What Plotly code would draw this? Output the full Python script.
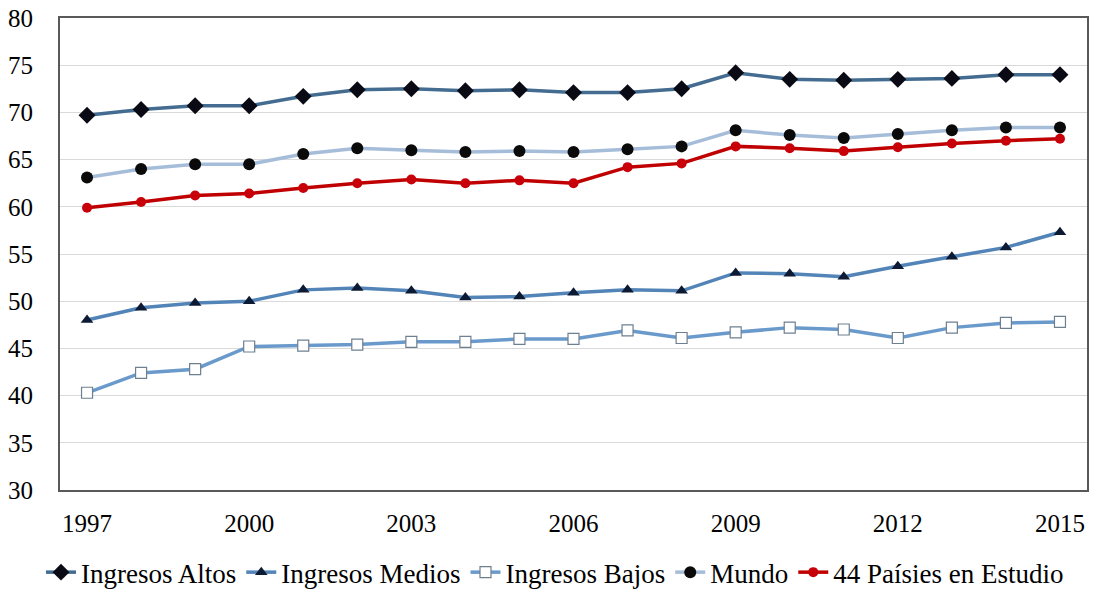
import plotly.graph_objects as go

years = list(range(1997, 2016))

altos = [69.7, 70.3, 70.7, 70.7, 71.7, 72.4, 72.5, 72.3, 72.4, 72.1, 72.1, 72.5,
         74.2, 73.5, 73.4, 73.5, 73.6, 74.0, 74.0]
medios = [48.0, 49.3, 49.8, 50.0, 51.2, 51.4, 51.1, 50.4, 50.5, 50.9, 51.2, 51.1,
          53.0, 52.9, 52.6, 53.7, 54.7, 55.7, 57.3]
bajos = [40.3, 42.4, 42.8, 45.2, 45.3, 45.4, 45.7, 45.7, 46.0, 46.0, 46.9, 46.1,
         46.7, 47.2, 47.0, 46.1, 47.2, 47.7, 47.8]
mundo = [63.1, 64.0, 64.5, 64.5, 65.6, 66.2, 66.0, 65.8, 65.9, 65.8, 66.1, 66.4,
         68.1, 67.6, 67.3, 67.7, 68.1, 68.4, 68.4]
paises44 = [59.9, 60.5, 61.2, 61.4, 62.0, 62.5, 62.9, 62.5, 62.8, 62.5, 64.2, 64.6,
            66.4, 66.2, 65.9, 66.3, 66.7, 67.0, 67.2]

series = [
    ("Ingresos Altos", altos, "#436C90", dict(symbol="diamond", size=13, color="#0A0A14")),
    ("Ingresos Medios", medios, "#5284B8", dict(symbol="triangle-up", size=11, color="#0D1A33")),
    ("Ingresos Bajos", bajos, "#6A9ACB", dict(symbol="square", size=11, color="white",
                                               line=dict(color="#6E7F90", width=1.2))),
    ("Mundo", mundo, "#A6BDDA", dict(symbol="circle", size=12, color="#0A0A0A")),
    ("44 Paísies en Estudio", paises44, "#C00000", dict(symbol="circle", size=10, color="#C8000A")),
]

fig = go.Figure()
for name, vals, col, mk in series:
    fig.add_trace(go.Scatter(x=years, y=vals, name=name, mode="lines+markers",
                             line=dict(color=col, width=3.5), marker=mk))

# page body has an 8px margin, so the figure is a bit smaller than the window
font = "Liberation Serif"
fig.update_layout(
    width=1096, height=584,
    margin=dict(l=52, r=17, t=10, b=102, autoexpand=False),
    paper_bgcolor="white", plot_bgcolor="white",
    font=dict(family=font, size=25, color="black"),
    showlegend=True,
    legend=dict(orientation="h", x=0.482, xanchor="center",
                y=-0.175, yanchor="middle", font=dict(size=27), itemwidth=30,
                tracegroupgap=0),
)
fig.update_xaxes(range=[1996.5, 2015.5], tickmode="array", tickvals=years[::3],
                 showgrid=False, showline=True, linecolor="#595959", linewidth=2,
                 mirror=True, ticks="", ticklabelstandoff=10, zeroline=False,
                 ticklabeloverflow="allow")
fig.update_yaxes(range=[30, 80], dtick=5, showgrid=True, gridcolor="#D9D9D9",
                 gridwidth=1, showline=True, linecolor="#595959", linewidth=2,
                 mirror=True, ticks="", ticklabelstandoff=20, zeroline=False,
                 ticklabeloverflow="allow")

fig.write_html("out.html")
